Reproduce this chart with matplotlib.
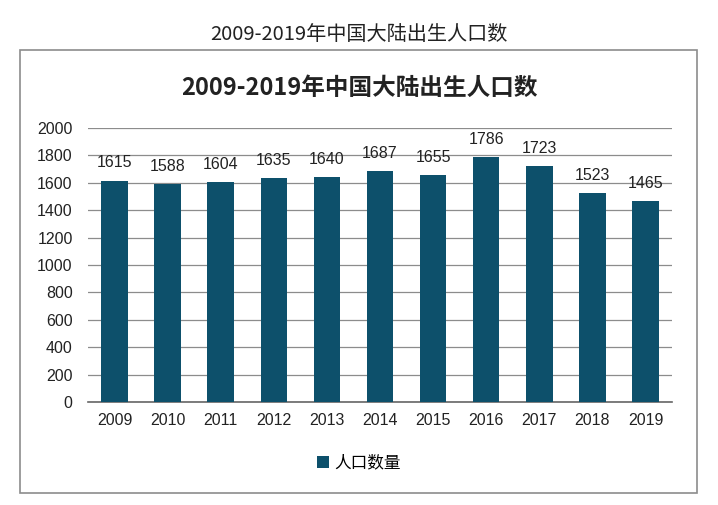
import matplotlib
matplotlib.use("Agg")
import matplotlib.pyplot as plt
from matplotlib.patches import Rectangle

plt.rcParams['font.family'] = ['Liberation Sans', 'Noto Sans CJK SC', 'DejaVu Sans']

years = ['2009', '2010', '2011', '2012', '2013', '2014', '2015', '2016', '2017', '2018', '2019']
births = [1615, 1588, 1604, 1635, 1640, 1687, 1655, 1786, 1723, 1523, 1465]
series_name = '人口数量'
title = '2009-2019年中国大陆出生人口数'

bar_color = '#0d506b'

fig = plt.figure(figsize=(7.18, 5.05), dpi=100)

# frame round the chart
fig.patches.append(Rectangle((0.028, 0.024), 0.943, 0.877, transform=fig.transFigure,
                             fill=False, edgecolor='#8c8c8c', linewidth=1.2))

fig.text(0.5, 0.931, title, ha='center', va='center', fontsize=14.5,
         family=['Noto Sans CJK SC'], color='#222222', fontweight='light')
fig.text(0.5, 0.826, title, ha='center', va='center', fontsize=17,
         family=['Noto Sans CJK SC'], fontweight='bold', color='#222222')

ax = fig.add_axes([0.1226, 0.204, 0.8134, 0.5425])
x = list(range(len(years)))
bars = ax.bar(x, births, width=0.5, color=bar_color, label=series_name, zorder=3)

ax.set_xlim(-0.5, len(years) - 0.5)
ax.set_ylim(0, 2000)
ax.set_yticks(range(0, 2001, 200))
ax.set_xticks(x)
ax.set_xticklabels(years)
ax.tick_params(axis='both', length=0, labelsize=11.5, colors='#222222')
ax.tick_params(axis='x', pad=8)
ax.tick_params(axis='y', pad=11)
ax.grid(axis='y', color='#8c8c8c', linewidth=0.9, zorder=0)
for s in ['top', 'right', 'left']:
    ax.spines[s].set_visible(False)
ax.spines['bottom'].set_color('#666666')
ax.spines['bottom'].set_linewidth(1.2)

for xi, v in zip(x, births):
    ax.text(xi, v + 75, str(v), ha='center', va='bottom', fontsize=11.5, color='#222222')

fig.legend(handles=[bars], labels=[series_name], loc='center', bbox_to_anchor=(0.5, 0.083),
           frameon=False, handlelength=0.7, handleheight=0.7, handletextpad=0.3,
           prop={'family': ['Noto Sans CJK SC'], 'size': 12})

fig.savefig('out.png', dpi=100, facecolor='white')
